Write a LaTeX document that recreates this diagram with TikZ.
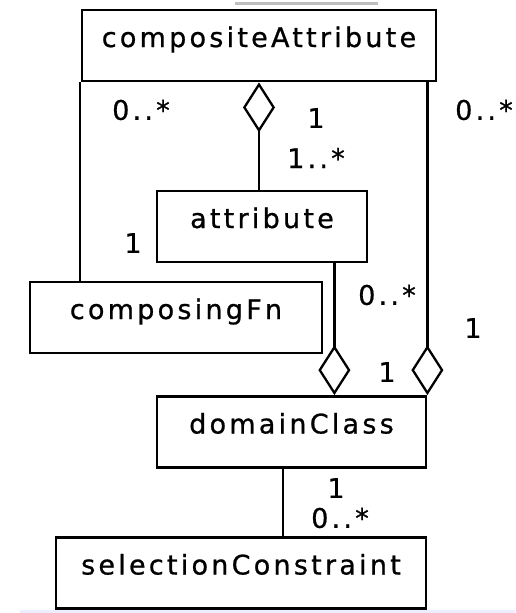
\documentclass[tikz,border=0pt]{standalone}
\usepackage{fontspec}
\setmainfont{DejaVu Sans}[LetterSpace=12,FakeBold=0.8]
\usetikzlibrary{arrows.meta}
\begin{document}
\begin{tikzpicture}[x=1pt,y=-1pt,
  cls/.style={draw,line width=2.8pt,inner sep=0pt,text height=37pt,text depth=34pt,
    font=\fontsize{27}{30}\selectfont},
  lbl/.style={inner sep=0pt,font=\fontsize{27}{30}\selectfont},
  assoc/.style={line width=2.5pt},
  agg/.style={line width=2.5pt,{Diamond[open,length=50pt,width=32pt,line width=2.3pt]}-}]
\useasboundingbox (0,0) rectangle (515,613);
% faint remnants
\fill[black!25] (235,2) rectangle (378,5);
\draw[blue!7,line width=3pt] (20,611) -- (515,611);
% classes
\node[cls,minimum width=354pt] (ca) at (259,45.5) {compositeAttribute};
\node[cls,minimum width=210pt] (attr) at (262,226.5) {attribute};
\node[cls,minimum width=292pt] (cf) at (176,317.5) {composingFn};
\node[cls,minimum width=269pt] (dc) at (291.5,432) {domainClass};
\node[cls,minimum width=370pt] (sc) at (241,573) {selectionConstraint};
% helper coordinates
\coordinate (p1) at ([xshift=-34pt]attr.south east);
\coordinate (p2) at ([xshift=-8.5pt]dc.south);
\coordinate (p3) at ([xshift=-0.5pt]ca.south west);
% connectors
\draw[assoc] (p3) -- (cf.north -| p3);
\draw[agg] (ca.south) -- (attr.north -| ca.south);
\draw[agg] (dc.north east) -- (ca.south -| dc.north east);
\draw[agg] (dc.north -| p1) -- (p1);
\draw[assoc] (p2) -- (sc.north -| p2);
% multiplicities
\node[lbl] (m1) at (141,110) {0..*};
\node[lbl] (m2) at (316,118) {1};
\node[lbl] (m3) at (316,158) {1..*};
\node[lbl] (m4) at (484,110) {0..*};
\node[lbl] (m5) at (133,243) {1};
\node[lbl] (m6) at (387,295) {0..*};
\node[lbl] (m7) at (473,328) {1};
\node[lbl] (m8) at (387,372) {1};
\node[lbl] (m9) at (336,488) {1};
\node[lbl] (m10) at (340,518) {0..*};
\end{tikzpicture}
\end{document}
